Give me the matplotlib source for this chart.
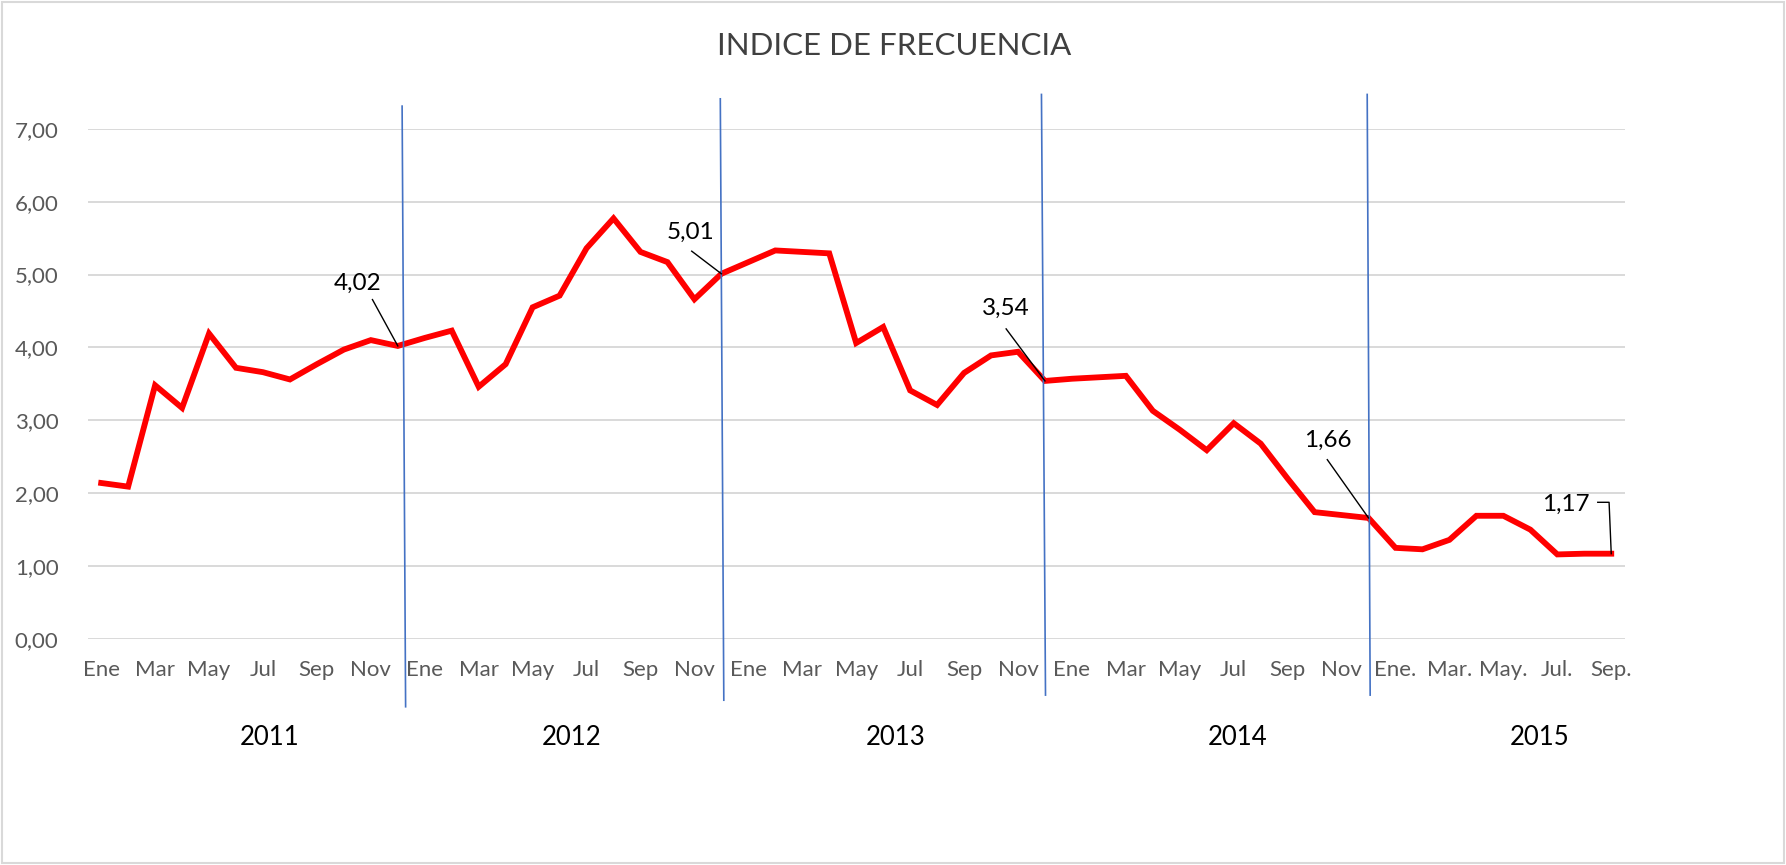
# Indice de frecuencia mensual, ene 2011 - sep 2015.

import matplotlib
matplotlib.use('Agg')
import matplotlib.pyplot as plt
from matplotlib.patches import Rectangle
from matplotlib.transforms import blended_transform_factory

plt.rcParams['font.family'] = ['Lato', 'DejaVu Sans']

# Data.
years = ['2011', '2012', '2013', '2014', '2015']
months = ['Ene', 'Feb', 'Mar', 'Abr', 'May', 'Jun',
          'Jul', 'Ago', 'Sep', 'Oct', 'Nov', 'Dic']
months_2015 = ['Ene.', 'Feb.', 'Mar.', 'Abr.', 'May.', 'Jun.',
               'Jul.', 'Ago.', 'Sep.']

idx_2011 = [2.14, 2.09, 3.48, 3.17, 4.19, 3.72, 3.66, 3.56, 3.77, 3.97, 4.10, 4.02]
idx_2012 = [4.13, 4.23, 3.46, 3.77, 4.55, 4.71, 5.36, 5.77, 5.31, 5.17, 4.66, 5.01]
idx_2013 = [5.17, 5.33, 5.31, 5.29, 4.06, 4.28, 3.41, 3.21, 3.65, 3.89, 3.94, 3.54]
idx_2014 = [3.57, 3.59, 3.61, 3.13, 2.87, 2.59, 2.96, 2.68, 2.20, 1.74, 1.70, 1.66]
idx_2015 = [1.25, 1.23, 1.36, 1.69, 1.69, 1.50, 1.16, 1.17, 1.17]

y_ticks = [0, 1, 2, 3, 4, 5, 6, 7]
y_ticklabels = ['0,00', '1,00', '2,00', '3,00', '4,00', '5,00', '6,00', '7,00']

# Labelled points: index into the series and the label text.
labelled = [(11, '4,02'), (23, '5,01'), (35, '3,54'), (47, '1,66'), (56, '1,17')]

# Build one continuous series.
values = idx_2011 + idx_2012 + idx_2013 + idx_2014 + idx_2015
cats = []
for y in years[:-1]:
    cats += months
cats += months_2015
x = list(range(len(values)))

# Layout (figure pixels -> fractions, 1786x865 at 100 dpi).
fig = plt.figure(figsize=(17.86, 8.65), dpi=100)
ax = fig.add_axes([0.0491, 0.2613, 0.8606, 0.5899])

grey = '#595959'

ax.plot(x, values, color='#ff0000', linewidth=4.2, solid_joinstyle='miter', zorder=3)

ax.set_xlim(-0.5, len(values) - 0.5)
ax.set_ylim(0, 7)
ax.set_yticks(y_ticks)
ax.set_yticklabels(y_ticklabels, fontsize=16, color=grey)
ax.yaxis.grid(True, color='#d9d9d9', linewidth=1.4)
ax.set_axisbelow(True)

# Every second month gets a label.
ax.set_xticks(x[::2])
ax.set_xticklabels(cats[::2], fontsize=16, color=grey)
ax.tick_params(axis='both', length=0)
ax.tick_params(axis='x', pad=15)
ax.tick_params(axis='y', pad=21)
for s in ax.spines.values():
    s.set_visible(False)

# Year labels under the month labels.
year_x = [6.26, 17.46, 29.48, 42.13, 53.36]
tr = blended_transform_factory(ax.transData, ax.transAxes)
for yx, ylab in zip(year_x, years):
    ax.text(yx, -0.194, ylab, transform=tr, ha='center', va='center',
            fontsize=18.5, color='black')

# Blue year dividers drawn through the December points (slightly slanted).
dividers = [
    (11.16, 11.29, 7.31, -0.93),
    (22.96, 23.09, 7.41, -0.84),
    (34.87, 35.02, 7.47, -0.77),
    (46.95, 47.06, 7.47, -0.77),
]
for x0, x1, y0, y1 in dividers:
    ax.plot([x0, x1], [y0, y1], color='#4472c4', linewidth=1.2, clip_on=False, zorder=4)

# Data labels with leader lines (offsets in data units from the point).
label_offsets = [
    ((-1.49, 0.855), [(-0.94, 0.636)]),
    ((-1.14, 0.573), [(-1.10, 0.31)]),
    ((-1.44, 0.992), [(-1.44, 0.714)]),
    ((-1.51, 1.062), [(-1.53, 0.80)]),
    ((-1.70, 0.682), [(-0.50, 0.705), (-0.08, 0.705)]),
]
for (i, txt), ((dx, dy), leader) in zip(labelled, label_offsets):
    px, py = i, values[i]
    ax.text(px + dx, py + dy, txt, ha='center', va='center', fontsize=17.5,
            color='black', zorder=5)
    lx = [px + lx_ for lx_, ly_ in leader] + [px]
    ly = [py + ly_ for lx_, ly_ in leader] + [py]
    ax.plot(lx, ly, color='black', linewidth=1.0, zorder=5, clip_on=False)

fig.text(0.5006, 0.947, 'INDICE DE FRECUENCIA', ha='center', va='center',
         fontsize=22.5, color='#404040')

# Light border round the chart area.
fig.patches.append(Rectangle((0.001, 0.002), 0.998, 0.996, transform=fig.transFigure,
                             fill=False, edgecolor='#d9d9d9', linewidth=1.5))

fig.savefig('out.png', dpi=100)
